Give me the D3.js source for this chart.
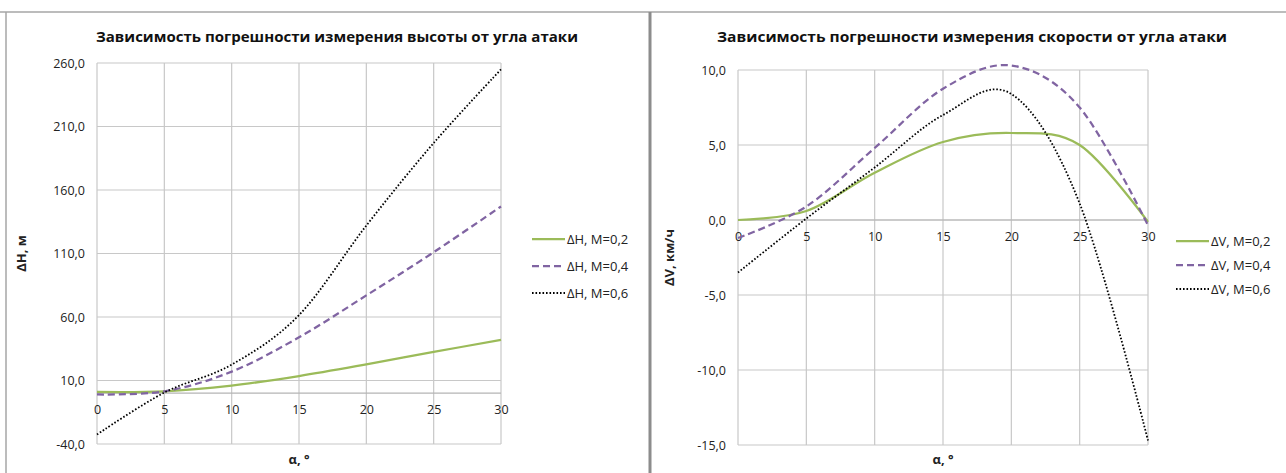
<!DOCTYPE html>
<html>
<head>
<meta charset="utf-8">
<script src="https://cdn.jsdelivr.net/npm/d3@7"></script>
<style>
  body { margin: 0; background: #fff; }
  svg { display: block; font-family: "Open Sans", "Noto Sans", sans-serif; }
</style>
</head>
<body>
<svg id="chart" width="1286" height="473"></svg>
<script>
// angle of attack, degrees
const alpha = [0, 5, 10, 15, 20, 25, 30];

// altitude error, m
const dH02 = [1.0, 1.5, 6.0, 13.5, 22.7, 32.5, 42.0];
const dH04 = [-1.0, 1.5, 17.0, 44.0, 77.0, 111.0, 147.0];
const dH06 = [-32.5, 0.5, 22.5, 61.5, 132.0, 197.0, 255.0];

// speed error, km/h
const dV02 = [0.0, 0.6, 3.15, 5.2, 5.8, 5.0, -0.13];
const dV04 = [-1.2, 0.9, 4.8, 8.75, 10.3, 7.5, -0.35];
const dV06 = [-3.5, 0.1, 3.5, 7.0, 8.4, 1.1, -14.7];

const hTicks = [-40, 10, 60, 110, 160, 210, 260];
const vTicks = [-15, -10, -5, 0, 5, 10];
const xTicks = [0, 5, 10, 15, 20, 25, 30];

const hNames = ['ΔH, M=0,2', 'ΔH, M=0,4', 'ΔH, M=0,6'];
const vNames = ['ΔV, M=0,2', 'ΔV, M=0,4', 'ΔV, M=0,6'];

const styles = [
    { color: '#9bbb59', width: 2.25, dash: null },
    { color: '#8064a2', width: 2.25, dash: '7,4' },
    { color: '#000000', width: 1.8, dash: '1.6,1.9' }
];

const FONT = '"Open Sans", "Noto Sans", sans-serif';
const svg = d3.select('#chart');
// Excel style: comma decimal, plain hyphen for minus
const fmt = d => d3.format('.1f')(d).replace('.', ',').replace('−', '-');

// outer frames
svg.append('line').attr('x1', 0).attr('x2', 1286).attr('y1', 12).attr('y2', 12)
    .attr('stroke', '#a6a6a6').attr('stroke-width', 1.5);
svg.append('line').attr('x1', 6).attr('x2', 6).attr('y1', 12).attr('y2', 473)
    .attr('stroke', '#a6a6a6').attr('stroke-width', 1.5);
svg.append('line').attr('x1', 650).attr('x2', 650).attr('y1', 12).attr('y2', 473)
    .attr('stroke', '#8c8c8c').attr('stroke-width', 3);

function drawChart(opt) {
    const x = d3.scaleLinear().domain([0, 30]).range([opt.left, opt.right]);
    const y = d3.scaleLinear().domain(opt.yDomain).range([opt.bottom, opt.top]);
    const g = svg.append('g');

    // grid
    g.append('g').selectAll('line').data(opt.yTicks).enter().append('line')
        .attr('x1', opt.left).attr('x2', opt.right)
        .attr('y1', d => y(d)).attr('y2', d => y(d))
        .attr('stroke', '#c8c8c8').attr('stroke-width', 1.2);
    g.append('g').selectAll('line').data(xTicks).enter().append('line')
        .attr('x1', d => x(d)).attr('x2', d => x(d))
        .attr('y1', opt.top).attr('y2', opt.bottom)
        .attr('stroke', '#c8c8c8').attr('stroke-width', 1.2);

    // zero line
    g.append('line').attr('x1', opt.left).attr('x2', opt.right)
        .attr('y1', y(0)).attr('y2', y(0))
        .attr('stroke', '#b4b4b4').attr('stroke-width', 1.2);

    // y axis
    const yAxis = g.append('g')
        .attr('transform', `translate(${opt.left},0)`)
        .call(d3.axisLeft(y).tickValues(opt.yTicks).tickFormat(fmt).tickSize(0).tickPadding(12))
        .attr('font-family', FONT).attr('font-size', 12.5);
    yAxis.select('.domain').remove();
    yAxis.selectAll('text').attr('fill', '#222');

    // x axis labels sit under the zero line
    const xAxis = g.append('g')
        .attr('transform', `translate(0,${y(0)})`)
        .call(d3.axisBottom(x).tickValues(xTicks).tickFormat(d3.format('d')).tickSize(0).tickPadding(12))
        .attr('font-family', FONT).attr('font-size', 12.5);
    xAxis.select('.domain').remove();
    xAxis.selectAll('text').attr('fill', '#222');

    // series
    const line = d3.line()
        .x((d, i) => x(alpha[i]))
        .y(d => y(d))
        .curve(d3.curveCardinal.tension(0));

    opt.series.forEach((s, i) => {
        g.append('path')
            .datum(s)
            .attr('d', line)
            .attr('fill', 'none')
            .attr('stroke', styles[i].color)
            .attr('stroke-width', styles[i].width)
            .attr('stroke-dasharray', styles[i].dash);
    });

    // title
    g.append('text')
        .attr('x', opt.titleX).attr('y', 42)
        .attr('text-anchor', 'middle')
        .attr('font-size', 15).attr('font-weight', 'bold')
        .attr('fill', '#111')
        .attr('textLength', opt.titleW).attr('lengthAdjust', 'spacingAndGlyphs')
        .text(opt.title);

    // axis titles
    g.append('text')
        .attr('transform', `translate(${opt.yTitleX},${(opt.top + opt.bottom) / 2}) rotate(-90)`)
        .attr('text-anchor', 'middle')
        .attr('font-size', 13).attr('font-weight', 'bold')
        .attr('fill', '#222')
        .text(opt.yTitle);
    g.append('text')
        .attr('x', (opt.left + opt.right) / 2).attr('y', 464)
        .attr('text-anchor', 'middle')
        .attr('font-size', 13).attr('font-weight', 'bold')
        .attr('fill', '#222')
        .text('α, °');

    // legend
    const legend = g.append('g').attr('transform', `translate(${opt.legX},${opt.legY})`);
    opt.names.forEach((n, i) => {
        const row = legend.append('g').attr('transform', `translate(0,${i * opt.legStep})`);
        row.append('line')
            .attr('x1', 0).attr('x2', 33).attr('y1', 0).attr('y2', 0)
            .attr('stroke', styles[i].color)
            .attr('stroke-width', styles[i].width)
            .attr('stroke-dasharray', styles[i].dash);
        row.append('text')
            .attr('x', 35).attr('y', 5)
            .attr('font-size', 13).attr('fill', '#222')
            .text(n);
    });
}

drawChart({
    left: 97, right: 501, top: 63, bottom: 444,
    yDomain: [-40, 260], yTicks: hTicks,
    series: [dH02, dH04, dH06], names: hNames,
    title: 'Зависимость погрешности измерения высоты от угла атаки',
    titleX: 337, titleW: 482,
    yTitle: 'ΔH, м', yTitleX: 26,
    legX: 532, legY: 239, legStep: 27
});

drawChart({
    left: 738, right: 1148, top: 70, bottom: 445,
    yDomain: [-15, 10], yTicks: vTicks,
    series: [dV02, dV04, dV06], names: vNames,
    title: 'Зависимость погрешности измерения скорости от угла атаки',
    titleX: 972, titleW: 510,
    yTitle: 'ΔV, км/ч', yTitleX: 674,
    legX: 1176, legY: 241, legStep: 24
});
</script>
</body>
</html>
